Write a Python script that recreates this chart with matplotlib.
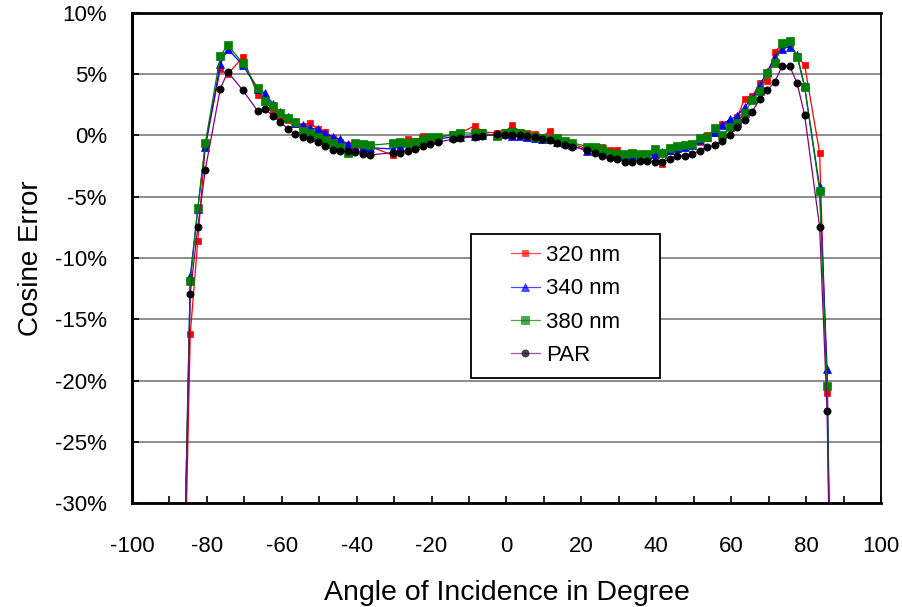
import numpy as np
import matplotlib
matplotlib.use("Agg")
import matplotlib.pyplot as plt
from matplotlib.ticker import MultipleLocator
from matplotlib.patches import Rectangle

plt.rcParams['font.family'] = ['Liberation Sans', 'DejaVu Sans']

# measurement angles (deg); the instrument angle scale is shifted slightly
angles = [-90, -84, -82, -80, -76, -74, -70, -66, -64, -62, -60, -58, -56, -54,
          -52, -50, -48, -46, -44, -42, -40, -38, -36, -30, -28, -26, -24, -22,
          -20, -18, -14, -12, -8, -6, -2, 0, 2, 4, 6, 8, 10, 12, 14, 16, 18, 22,
          24, 26, 28, 30, 32, 34, 36, 38, 40, 42, 44, 46, 48, 50, 52, 54, 56, 58,
          60, 62, 64, 66, 68, 70, 72, 74, 76, 78, 80, 84, 86, 90]
angle_shift = -0.4

# cosine error in percent
err_320 = [-100, -16.2, -8.6, -0.9, 5.4, 5.0, 6.4, 3.3, 2.9, 2.0, 1.5, 1.3, 0.9, 0.8,
           1.05, 0.5, 0.25, -0.2, -0.5, -0.8, -1.0, -1.0, -0.9, -1.6, -1.0, -0.3, -0.45, -0.05,
           -0.1, -0.2, 0.1, 0.2, 0.8, 0.3, 0.2, 0.3, 0.85, 0.3, 0.2, 0.1, -0.1, 0.4, -0.3, -0.5, -0.7, -1.1,
           -1.0, -0.9, -1.2, -1.15, -1.6, -1.6, -1.7, -1.6, -1.6, -2.35, -1.3, -1.1, -0.9, -0.8, -0.5, 0.0, 0.2, 0.9,
           1.0, 1.5, 3.0, 3.2, 4.25, 4.45, 6.85, 7.4, 7.5, 6.45, 5.75, -1.4, -21.0, -100]
err_340 = [-100, -11.5, -6.0, -0.9, 5.8, 7.06, 5.76, 3.8, 3.44, 2.6, 1.9, 1.5, 1.0, 0.86,
           0.6, 0.5, 0.2, -0.1, -0.3, -0.7, -1.0, -0.9, -1.0, -1.1, -0.9, -0.9, -0.8, -0.5,
           -0.4, -0.3, -0.1, -0.1, -0.05, 0.0, 0.05, 0.1, -0.05, -0.05, -0.1, -0.2, -0.3, -0.3, -0.5, -0.6, -0.8, -1.3,
           -1.2, -1.3, -1.5, -1.6, -1.6, -1.6, -1.65, -1.6, -1.5, -1.35, -1.2, -1.0, -0.9, -0.8, -0.4, -0.1, 0.3, 0.85,
           1.32, 1.59, 2.35, 3.0, 4.12, 5.2, 6.43, 7.1, 7.25, 6.6, 4.0, -4.2, -19.1, -100]
err_380 = [-100, -11.9, -5.95, -0.64, 6.49, 7.39, 5.9, 3.85, 2.84, 2.4, 1.81, 1.4, 1.1, 0.35,
           0.18, -0.1, -0.37, -0.6, -0.9, -1.4, -0.6, -0.72, -0.8, -0.64, -0.56, -0.6, -0.5, -0.3,
           -0.1, -0.1, 0.04, 0.23, 0.18, 0.2, -0.04, 0.23, 0.3, 0.2, 0.0, -0.1, -0.2, -0.25, -0.23, -0.45, -0.6, -0.9,
           -0.9, -1.1, -1.46, -1.5, -1.55, -1.4, -1.55, -1.5, -1.1, -1.45, -1.0, -0.85, -0.8, -0.69, -0.23, -0.1, 0.58, 0.04,
           0.67, 1.0, 1.81, 2.9, 3.66, 5.08, 5.89, 7.53, 7.74, 6.43, 3.93, -4.5, -20.45, -100]
err_par = [-100, -12.9, -7.5, -2.8, 3.8, 5.2, 3.7, 2.0, 2.2, 1.6, 1.1, 0.55, 0.12, -0.12,
           -0.31, -0.56, -0.88, -1.15, -1.27, -1.27, -1.32, -1.51, -1.59, -1.4, -1.4, -1.24, -1.08, -0.88,
           -0.72, -0.56, -0.3, -0.2, -0.12, -0.04, 0.1, 0.06, 0.04, 0.04, -0.04, -0.15, -0.31, -0.33, -0.59, -0.75, -0.91, -1.18,
           -1.43, -1.67, -1.86, -1.94, -2.14, -2.14, -2.06, -2.06, -2.14, -2.14, -1.94, -1.7, -1.65, -1.5, -1.24, -0.95, -0.8, -0.47,
           0.04, 0.67, 1.27, 1.95, 2.95, 3.71, 4.34, 5.67, 5.67, 4.26, 1.67, -7.44, -22.5, -100]

series_labels = ['320 nm', '340 nm', '380 nm', 'PAR']
x_ticks = [-100, -80, -60, -40, -20, 0, 20, 40, 60, 80, 100]
y_ticks = [10, 5, 0, -5, -10, -15, -20, -25, -30]
y_tick_labels = ['10%', '5%', '0%', '-5%', '-10%', '-15%', '-20%', '-25%', '-30%']

fig = plt.figure(figsize=(9.03, 6.07), dpi=100)
ax = fig.add_axes([0.146, 0.1713, 0.8297, 0.8073])

x = np.array(angles) + angle_shift
styles = [
    dict(color='#ff0000', marker='s', markersize=5.0, mec='#ff0000', mfc='#ff0000'),
    dict(color='#0000ff', marker='^', markersize=5.6, mec='#0000ff', mfc='#0000ff'),
    dict(color='#008000', marker='s', markersize=6.2, mec='#008000', mfc='#008000'),
    dict(color='#800080', marker='o', markersize=5.2, mec='#000000', mfc='#000000'),
]
for vals, lab, st in zip([err_320, err_340, err_380, err_par], series_labels, styles):
    ax.plot(x, vals, linewidth=0.9, label=lab, markeredgewidth=0.5, **st)

ax.set_xlim(-100, 100)
ax.set_ylim(-30, 10)
ax.set_xticks(x_ticks)
ax.set_xticklabels([str(t) for t in x_ticks])
ax.xaxis.set_minor_locator(MultipleLocator(10))
ax.set_yticks(y_ticks)
ax.set_yticklabels(y_tick_labels)
ax.tick_params(axis='both', which='both', direction='in', length=5, width=1.2,
               labelsize=16, color='black')
ax.tick_params(axis='x', which='major', pad=24)
ax.tick_params(axis='y', which='major', pad=18)
ax.yaxis.grid(True, color='#6e6e6e', linewidth=1.1)
ax.set_axisbelow(True)

for side, lw in [('left', 2.2), ('bottom', 2.0), ('top', 2.0), ('right', 1.3)]:
    ax.spines[side].set_linewidth(lw)
    ax.spines[side].set_color('black')

ax.set_xlabel('Angle of Incidence in Degree', fontsize=20.5, labelpad=16)
ax.set_ylabel('Cosine Error', fontsize=20, labelpad=8)

# legend box (Excel style: wide frame, entries inset)
ax.add_patch(Rectangle((0.4528, 0.2551), 0.2522, 0.2949, transform=ax.transAxes,
                       facecolor='white', edgecolor='black', linewidth=1.3, zorder=5))
leg = ax.legend(loc='center left', bbox_to_anchor=(0.506, 0.403), fontsize=16,
                frameon=False, handlelength=1.3, labelspacing=0.55, borderpad=0,
                handletextpad=0.3, borderaxespad=0)
leg.set_zorder(6)
for line in leg.get_lines():
    line.set_alpha(0.7)

fig.savefig('out.png', dpi=100)
